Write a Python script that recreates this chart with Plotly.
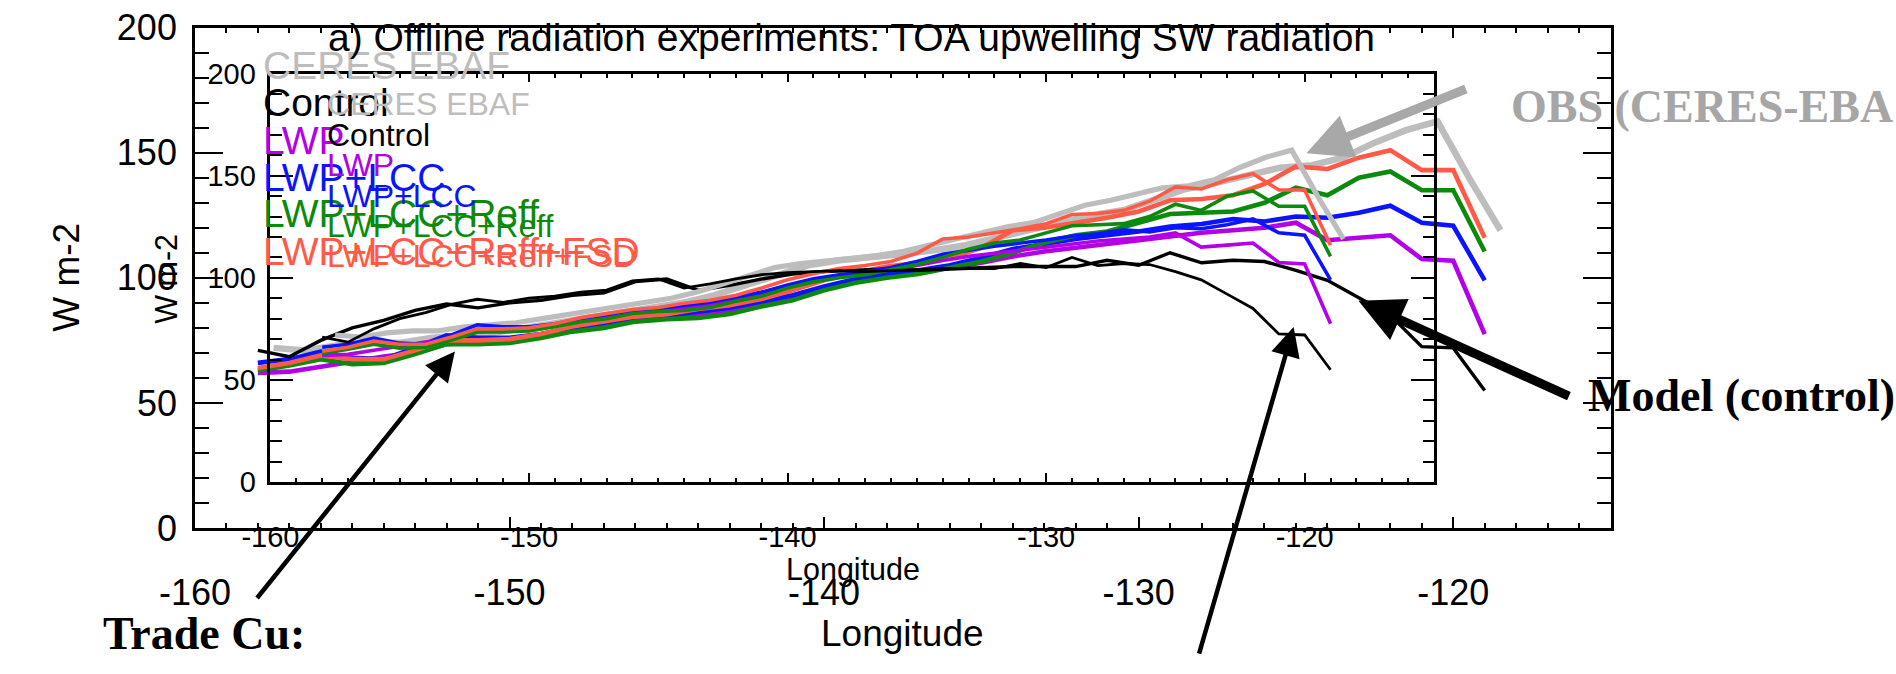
import plotly.graph_objects as go

W, H = 1896, 674

# ---------------- data ----------------
lon = [-158, -157, -156, -155, -154, -153, -152, -151, -150, -149,
       -148, -147, -146, -145, -144, -143, -142, -141, -140, -139,
       -138, -137, -136, -135, -134, -133, -132, -131, -130, -129,
       -128, -127, -126, -125, -124, -123, -122, -121, -120, -119]

control = [71, 68.5, 75, 80, 83, 87, 89.5, 88, 90, 91,
           93, 94, 98.5, 99.5, 95, 97, 99.5, 101.5, 102.5, 103,
           103.5, 103, 103.5, 104, 104.5, 104.5, 104.5, 107, 105, 110,
           106, 107, 106.5, 103, 99, 92, 85, 72.5, 72, 55]

lwp = [62, 62.5, 64.5, 66.5, 68.5, 70, 73.5, 74.5, 75, 77,
       79, 81, 83, 84, 85.5, 87, 89.5, 92, 95.5, 98.5,
       100.5, 102, 104, 106, 108.5, 110.5, 112, 113.5, 115, 116.5,
       118, 119, 120, 122, 115, 116, 117, 107.5, 106.8, 77.5]

lwp_lcc = [66, 67.5, 70.5, 68, 67.5, 72, 77, 76, 76, 77.5,
           80, 82, 84, 85, 86.5, 88, 90.5, 93, 96.5, 99.5,
           101.5, 103, 105, 108, 111.5, 113.5, 115.5, 117, 118.5, 120.5,
           121.5, 123.5, 122.5, 124.5, 124, 126, 128.8, 122, 120.8, 99]

lwp_lcc_reff = [63, 65, 67.5, 65.5, 66, 69.5, 73.5, 73.5, 74, 76,
                78.5, 80, 82.5, 83.5, 84, 85.5, 88.5, 91, 95, 98,
                100, 101.5, 104, 106.5, 110, 114, 117, 118.5, 122, 125.5,
                126, 126.5, 130, 136, 133, 140, 142.5, 135, 135, 110.5]

lwp_lcc_reff_fsd = [64, 66, 69, 67.5, 67.5, 71, 75, 75, 75.5, 77.5,
                    80.5, 82.5, 84.5, 85.5, 87.5, 89, 91.5, 95, 99, 102,
                    104.5, 106, 108, 112, 119, 120, 122, 124, 126.5, 131,
                    131.5, 133, 137.5, 144.5, 143.5, 148, 151, 143, 143, 116]

ceres_lon = [-157.5, -156.5, -155.5, -154.5, -153.5, -152.5, -151.5, -150.5, -149.5, -148.5,
             -147.5, -146.5, -145.5, -144.5, -143.5, -142.5, -141.5, -140.5, -139.5, -138.5,
             -137.5, -136.5, -135.5, -134.5, -133.5, -132.5, -131.5, -130.5, -129.5, -128.5,
             -127.5, -126.5, -125.5, -124.5, -123.5, -122.5, -121.5, -120.5, -119.5, -118.5]
ceres = [72, 71, 73, 74, 74, 76, 77, 78, 80, 82,
         84, 86, 88, 90, 93, 97, 101, 105, 107, 108,
         109.5, 111, 113, 116, 119, 122, 125, 127, 131, 135.5,
         138, 141, 144, 145, 148, 154, 159, 162.5, 140, 119]

legend_labels = ["CERES EBAF", "Control", "LWP", "LWP+LCC", "LWP+LCC+Reff", "LWP+LCC+Reff+FSD"]
legend_y = [185, 170, 155, 140, 125.5, 110.5]
x_ticks = [-160, -150, -140, -130, -120]

# ---------------- styling ----------------
GREY = "#bdbdbd"
PURPLE = "#b400e6"
BLUE = "#0a14ff"
GREEN = "#0b8a0b"
RED = "#ff5a48"
colors = [GREY, "black", PURPLE, BLUE, GREEN, RED]
SANS = "Liberation Sans, Arial, sans-serif"
SERIF = "Liberation Serif, Times New Roman, serif"


def px2paper(px, py):
    return px / W, 1 - py / H


# two overlaid copies of the same panel (slide composite): outer (enlarged) and inner
copies = [
    dict(box=(162, 8, 1605, 541), xa="x", ya="y", s=1.22, lw=4.6, clw=3.4, gw=6.5,
         tickfont=36, standx=31, standy=8, legfont=39, labfont=37,
         xlab=(883, 653), ylab=(31, 274)),
    dict(box=(239, 57, 1425, 492), xa="x2", ya="y2", s=1.0, lw=3.6, clw=2.8, gw=5.2,
         tickfont=29, standx=27, standy=6, legfont=32, labfont=30.5,
         xlab=(833, 585), ylab=(133, 275)),
]

series = [
    (ceres_lon, ceres, GREY),
    (lon, lwp, PURPLE),
    (lon, lwp_lcc, BLUE),
    (lon, lwp_lcc_reff, GREEN),
    (lon, lwp_lcc_reff_fsd, RED),
    (lon, control, "black"),
]

fig = go.Figure()
for c in copies:
    for xs, ys, col in series:
        w = c["gw"] if col == GREY else (c["clw"] if col == "black" else c["lw"])
        fig.add_trace(go.Scatter(x=xs, y=ys, mode="lines", xaxis=c["xa"], yaxis=c["ya"],
                                 line=dict(color=col, width=w), hoverinfo="skip",
                                 showlegend=False))

layout_axes = {}
annotations = []
for i, c in enumerate(copies):
    l, t, r, b = c["box"]
    s = c["s"]
    x0, y1 = px2paper(l, t)
    x1, y0 = px2paper(r, b)
    xname = "xaxis" if i == 0 else "xaxis2"
    yname = "yaxis" if i == 0 else "yaxis2"
    layout_axes[xname] = dict(
        domain=[x0, x1], range=[-160, -115], anchor=c["ya"],
        tickmode="array", tickvals=x_ticks, ticktext=[str(v) for v in x_ticks],
        ticks="inside", ticklen=9 * s, tickwidth=2, tickcolor="black",
        minor=dict(dtick=1, tick0=-160, ticks="inside", ticklen=4.5 * s, tickwidth=1.6,
                   tickcolor="black"),
        showline=True, linecolor="black", linewidth=2.6, mirror="ticks",
        showgrid=False, zeroline=False,
        tickfont=dict(family=SANS, size=c["tickfont"], color="black"),
        ticklabelstandoff=c["standx"],
    )
    layout_axes[yname] = dict(
        domain=[y0, y1], range=[0, 200], anchor=c["xa"],
        tickmode="linear", tick0=0, dtick=50,
        ticks="inside", ticklen=23 * s, tickwidth=2, tickcolor="black",
        minor=dict(dtick=10, tick0=0, ticks="inside", ticklen=11.5 * s, tickwidth=2,
                   tickcolor="black"),
        showline=True, linecolor="black", linewidth=2.6, mirror="ticks",
        showgrid=False, zeroline=False,
        tickfont=dict(family=SANS, size=c["tickfont"], color="black"),
        ticklabelstandoff=c["standy"],
    )

    # in-panel legend (text only, as in the IDL plot)
    for lab, yv, col in zip(legend_labels, legend_y, colors):
        annotations.append(dict(text=lab, x=-157.9, y=yv, xref=c["xa"], yref=c["ya"],
                                xanchor="left", yanchor="middle", showarrow=False,
                                font=dict(family=SANS, size=c["legfont"], color=col)))
    # axis titles
    xx, xy = px2paper(*c["xlab"])
    annotations.append(dict(text="Longitude", x=xx, y=xy, xref="paper", yref="paper",
                            xanchor="center", yanchor="middle", showarrow=False,
                            font=dict(family=SANS, size=c["labfont"], color="black")))
    yx, yy = px2paper(*c["ylab"])
    annotations.append(dict(text="W m-2", x=yx, y=yy, xref="paper", yref="paper",
                            textangle=-90, xanchor="center", yanchor="middle",
                            showarrow=False,
                            font=dict(family=SANS, size=c["labfont"], color="black")))

# panel title (of the inner copy; the outer copy's title lies above the slide)
tx, ty = px2paper(831, 19)
annotations.append(dict(text="a) Offline radiation experiments: TOA upwelling SW radiation",
                        x=tx, y=ty, xref="paper", yref="paper", xanchor="center",
                        yanchor="middle", showarrow=False,
                        font=dict(family=SANS, size=39, color="black")))


def label(text, px, py, size, color):
    x, y = px2paper(px, py)
    annotations.append(dict(text=text, x=x, y=y, xref="paper", yref="paper",
                            xanchor="left", yanchor="middle", showarrow=False,
                            font=dict(family=SERIF, size=size, color=color, weight="bold")))


label("OBS (CERES-EBA", 1502, 92, 46, "#a6a6a6")
label("Model (control)", 1580, 400, 46, "black")
label("Trade Cu:", 66, 653, 46, "black")


def arrow(head, tail, width, color, size):
    x, y = px2paper(*head)
    annotations.append(dict(text="", x=x, y=y, xref="paper", yref="paper",
                            ax=tail[0] - head[0], ay=tail[1] - head[1],
                            showarrow=True, arrowhead=2, arrowsize=size,
                            arrowwidth=width, arrowcolor=color, standoff=0))


arrow((1295, 142), (1456, 77), 9, "#a8a8a8", 1.0)
arrow((1348, 299), (1560, 395), 9, "black", 1.0)
arrow((427, 353), (228, 601), 4.5, "black", 1.3)
arrow((1282, 327), (1187, 655), 4.5, "black", 1.3)

fig.update_layout(
    width=W, height=H, autosize=False,
    margin=dict(l=0, r=0, t=0, b=0),
    paper_bgcolor="white", plot_bgcolor="rgba(0,0,0,0)",
    showlegend=False,
    annotations=annotations,
    **layout_axes,
)

fig.write_html("out.html")
